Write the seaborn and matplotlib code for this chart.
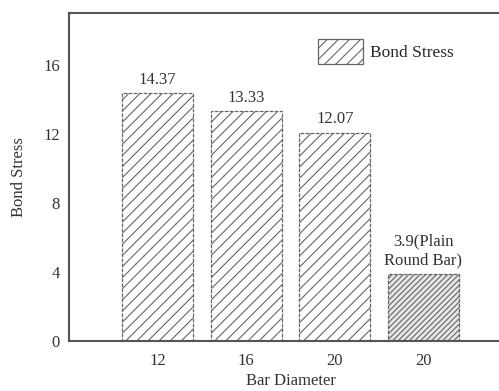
import matplotlib
matplotlib.use("Agg")
import matplotlib.pyplot as plt
from matplotlib.patches import Patch
import seaborn as sns
import pandas as pd

categories = ["12", "16", "20", "20 "]
values = [14.37, 13.33, 12.07, 3.9]
labels = ["14.37", "13.33", "12.07", "3.9(Plain\nRound Bar)"]
yticks = [0, 4, 8, 12, 16]

sns.set_style("white")
plt.rcParams['font.family'] = ['Liberation Serif', 'DejaVu Serif']
plt.rcParams['hatch.color'] = '#777777'
plt.rcParams['hatch.linewidth'] = 0.8

FS = 12

fig = plt.figure(figsize=(4.99, 3.91), dpi=100)
ax = fig.add_axes([69/499, 50/391, (512-69)/499, 328/391])

df = pd.DataFrame({"Bar Diameter": categories, "Bond Stress": values})
sns.barplot(data=df, x="Bar Diameter", y="Bond Stress", ax=ax, width=0.8,
            color="white", edgecolor="#666666", linewidth=0.9, saturation=1)

for i, p in enumerate(ax.patches):
    p.set_linestyle((0, (3, 1)))
    if i < 3:
        p.set_hatch("///")
        p.set_facecolor("white")
    else:
        p.set_hatch("//////")
        p.set_facecolor("#e6e6e6")

for i, (v, lab) in enumerate(zip(values, labels)):
    ax.text(i, v + 0.3, lab, ha="center", va="bottom", fontsize=FS, color="#333333",
            linespacing=1.25)

ax.set_xlim(-1.0, 4.0)
ax.set_ylim(0, 19)
ax.set_yticks(yticks)
ax.set_yticklabels([str(t) for t in yticks])
ax.set_xticks(range(len(categories)))
ax.set_xticklabels(["12", "16", "20", "20"])
ax.tick_params(axis="both", labelsize=FS, colors="#333333", length=3, width=1,
               direction="inout")
ax.tick_params(axis="y", pad=5)
ax.tick_params(axis="x", pad=7)
for s in ["left", "bottom", "top", "right"]:
    ax.spines[s].set_visible(True)
    ax.spines[s].set_color("#555555")
    ax.spines[s].set_linewidth(1.5)

ax.set_xlabel("Bar Diameter", fontsize=FS, color="#333333", labelpad=3)
ax.set_ylabel("Bond Stress", fontsize=FS, color="#333333", labelpad=12)

handle = Patch(facecolor="white", edgecolor="#666666", hatch="///", linewidth=0.9)
ax.legend([handle], ["Bond Stress"], loc="upper left", bbox_to_anchor=(0.562, 0.92),
          frameon=False, fontsize=FS + 0.5, handlelength=2.6, handleheight=1.8,
          handletextpad=0.4, borderaxespad=0, borderpad=0)

fig.savefig("out.png", dpi=100)
